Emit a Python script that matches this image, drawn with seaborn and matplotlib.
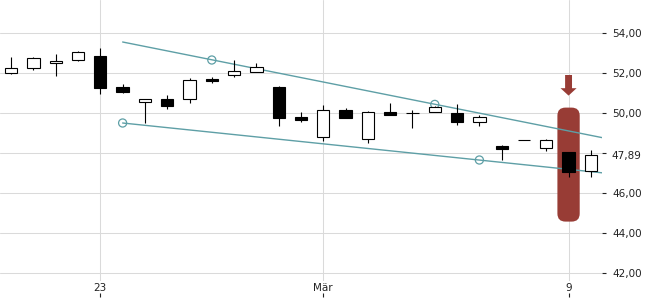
import matplotlib
matplotlib.use("Agg")
import matplotlib.pyplot as plt
import seaborn as sns
import numpy as np
import pandas as pd
from matplotlib.patches import FancyBboxPatch, FancyArrow

# ---- data ----
opens  = [51.98, 52.24, 52.48, 52.63, 52.87, 51.30, 50.53, 50.68, 50.72, 51.70,
          51.88, 52.07, 51.30, 49.80, 48.78, 50.15, 48.72, 50.05, 49.99, 50.03,
          49.98, 49.57, 48.35, 48.63, 48.23, 48.05, 47.08]
highs  = [52.79, 52.82, 52.95, 53.10, 53.23, 51.45, 50.70, 50.90, 51.77, 51.78,
          52.65, 52.48, 51.35, 50.05, 50.38, 50.23, 50.10, 50.48, 50.15, 50.35,
          50.45, 49.90, 48.40, 48.63, 48.70, 48.07, 48.15]
lows   = [51.97, 52.15, 51.87, 52.62, 50.93, 51.00, 49.52, 50.22, 50.48, 51.52,
          51.78, 52.05, 49.37, 49.57, 48.62, 49.75, 48.52, 49.90, 49.27, 50.03,
          49.42, 49.37, 47.65, 48.63, 48.10, 46.82, 46.82]
closes = [52.24, 52.74, 52.62, 53.03, 51.27, 51.07, 50.68, 50.37, 51.65, 51.60,
          52.08, 52.28, 49.77, 49.65, 50.13, 49.77, 50.03, 49.92, 49.99, 50.30,
          49.57, 49.80, 48.22, 48.63, 48.63, 47.07, 47.88]

date_tick_pos = [4, 14, 25]
date_tick_labels = ["23", "Mär", "9"]

price_ticks = [42, 44, 46, 48, 50, 52, 54]
last_price = 47.89

# trend channel
upper_line_x = [5, 26.5]
upper_line_y = [53.55, 48.77]
upper_touch_x = [9, 19]
upper_touch_y = [52.65, 50.43]
lower_line_x = [5, 26.5]
lower_line_y = [49.50, 47.01]
lower_touch_x = [5, 21]
lower_touch_y = [49.50, 47.65]

# signal marker
signal_index = 25
signal_top = 50.27
signal_bottom = 44.57
arrow_top = 51.90
arrow_tip = 50.87

# ---- styling ----
sns.set_style("white")
plt.rcParams["font.family"] = ["DejaVu Sans"]
TEXT = "#222222"
GRID = "#dadada"
TEAL = "#5e9fa6"
RED = "#983c35"

fig = plt.figure(figsize=(6.5, 3.0), dpi=100)
ax = fig.add_axes([0.0, 19 / 300, 602 / 650, 281 / 300])

n = len(opens)
x = np.arange(n)
df = pd.DataFrame({"x": x, "open": opens, "high": highs, "low": lows, "close": closes})

# signal column (rounded) behind everything except grid
w_sig = 1.0
r = 0.36
aspect = (1 / 20) / (1 / 22.3)
sig = FancyBboxPatch((signal_index - w_sig / 2, signal_bottom), w_sig, signal_top - signal_bottom,
                     boxstyle=f"round,pad=0,rounding_size={r}", mutation_aspect=aspect,
                     facecolor=RED, edgecolor="none", zorder=1)
ax.add_patch(sig)
ax.add_patch(FancyArrow(signal_index, arrow_top, 0, -(arrow_top - arrow_tip),
                        width=0.31, head_width=0.72, head_length=0.37,
                        length_includes_head=True, color=RED, lw=0, zorder=1))

# trend lines
line_df = pd.DataFrame({"x": upper_line_x + lower_line_x,
                        "y": upper_line_y + lower_line_y,
                        "line": ["u", "u", "l", "l"]})
sns.lineplot(data=line_df, x="x", y="y", units="line", estimator=None,
             color=TEAL, lw=1.0, ax=ax, zorder=2, legend=False)
sns.scatterplot(x=upper_touch_x + lower_touch_x, y=upper_touch_y + lower_touch_y,
                ax=ax, s=34, facecolor="none", edgecolor=TEAL, linewidth=0.9,
                zorder=2, legend=False)

# candles
bw = 0.55
ax.vlines(df["x"], df["low"], df["high"], color="black", lw=0.8, zorder=3)
up = df["close"] >= df["open"]
bottoms = np.minimum(df["open"], df["close"])
heights = (df["close"] - df["open"]).abs()
ax.bar(df["x"][up], heights[up], bottom=bottoms[up], width=bw,
       facecolor="white", edgecolor="black", linewidth=0.8, zorder=4)
ax.bar(df["x"][~up], heights[~up], bottom=bottoms[~up], width=bw,
       facecolor="black", edgecolor="black", linewidth=0.8, zorder=4)

ax.set_xlim(-0.5, n - 0.5)
ax.set_ylim(41.6, 55.65)

# axes/ticks
for s in ax.spines.values():
    s.set_visible(False)
ax.set_xlabel("")
ax.set_ylabel("")
ax.set_xticks(date_tick_pos)
ax.set_xticklabels(date_tick_labels)
ax.tick_params(axis="x", length=0, pad=1.5, labelsize=7.5, labelcolor=TEXT)

ax.yaxis.tick_right()
ax.set_yticks(price_ticks)
ax.set_yticklabels(["" if v == 48 else f"{v:.2f}".replace(".", ",") for v in price_ticks])
ax.set_yticks([last_price], minor=True)
ax.set_yticklabels([f"{last_price:.2f}".replace(".", ",")], minor=True)
ax.tick_params(axis="y", which="major", direction="out", length=3, width=0.8,
               color=TEXT, pad=4.5, labelsize=7.5, labelcolor=TEXT)
ax.tick_params(axis="y", which="minor", length=0, pad=6.6, labelsize=7.5, labelcolor=TEXT)

ax.grid(True, which="major", color=GRID, lw=0.75, zorder=0)
ax.set_axisbelow(True)

# small date tick marks below the labels
sec = ax.secondary_xaxis(-12 / 281)
sec.set_xticks(date_tick_pos)
sec.set_xticklabels([""] * len(date_tick_pos))
sec.tick_params(axis="x", direction="out", length=2.6, width=0.8, color=TEXT)
for s in sec.spines.values():
    s.set_visible(False)

fig.savefig("out.png", dpi=100)
